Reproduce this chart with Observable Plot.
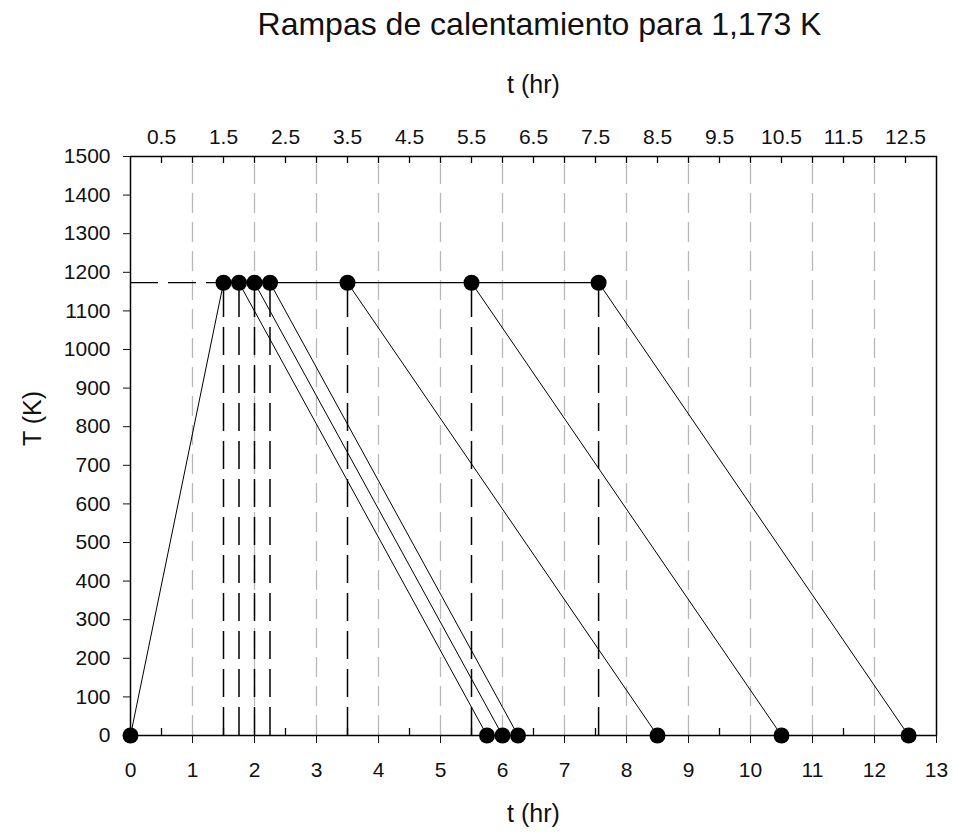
<!DOCTYPE html>
<html>
<head>
<meta charset="utf-8">
<script src="https://cdn.jsdelivr.net/npm/d3@7"></script>
<script src="https://cdn.jsdelivr.net/npm/@observablehq/plot@0.6"></script>
<style>
  body { margin: 0; background: #fff; font-family: "Liberation Sans", Arial, sans-serif; }
  #title { width: 953px; box-sizing: border-box; padding-left: 126px; height: 50px; line-height: 48px; text-align: center; font-size: 32px; color: #111; }
</style>
</head>
<body>
<div id="title">Rampas de calentamiento para 1,173 K</div>
<div id="chart"></div>
<script>
// Data
const targetK = 1173;
const rampTimes = [0, 1.5];          // heating ramp start/end (hr)
const rampTemps = [0, 1173];         // K
const holdEndTimes = [1.5, 1.75, 2.0, 2.25, 3.5, 5.5, 7.55];   // points at 1173 K
const coolStartTimes = [1.75, 2.0, 2.25, 3.5, 5.5, 7.55];      // start of cooling
const coolEndTimes = [5.75, 6.0, 6.25, 8.5, 10.5, 12.55];      // reach 0 K
const xTicksBottom = [0,1,2,3,4,5,6,7,8,9,10,11,12,13];
const xTicksTop = [0.5,1.5,2.5,3.5,4.5,5.5,6.5,7.5,8.5,9.5,10.5,11.5,12.5];
const xTopMinor = [0.5,1,1.5,2,2.5,3,3.5,4,4.5,5,5.5,6,6.5,7,7.5,8,8.5,9,9.5,10,10.5,11,11.5,12,12.5];
const xGrid = [1,2,3,4,5,6,7,8,9,10,11,12];
const yTicks = [0,100,200,300,400,500,600,700,800,900,1000,1100,1200,1300,1400,1500];

const ramp = rampTimes.map((t, i) => ({t, T: rampTemps[i]}));
const cooling = coolStartTimes.map((t, i) => ({t0: t, t1: coolEndTimes[i]}));
const points = [
  {t: rampTimes[0], T: rampTemps[0]},
  ...holdEndTimes.map(t => ({t, T: targetK})),
  ...coolEndTimes.map(t => ({t, T: 0}))
];

const chart = Plot.plot({
  width: 953,
  height: 782,
  marginTop: 106,
  marginBottom: 97,
  marginLeft: 130,
  marginRight: 17,
  style: {fontFamily: "'Liberation Sans', Arial, sans-serif", fontSize: "21px", color: "#111", background: "#fff"},
  x: {domain: [0, 13]},
  y: {domain: [0, 1500]},
  marks: [
    Plot.ruleX(xGrid, {x: d => d, y1: 0, y2: 1500, stroke: "#b8b8b8", strokeWidth: 1.3, strokeDasharray: "20,9"}),
    Plot.ruleX(holdEndTimes, {x: d => d, y1: 0, y2: targetK, stroke: "#000", strokeWidth: 1.5, strokeDasharray: "28,10"}),
    Plot.ruleY([targetK], {x1: 0, x2: holdEndTimes[0], stroke: "#000", strokeWidth: 1.3, strokeDasharray: "28,10"}),
    Plot.ruleY([targetK], {x1: holdEndTimes[0], x2: holdEndTimes[holdEndTimes.length - 1], stroke: "#000", strokeWidth: 1.3}),
    Plot.line(ramp, {x: "t", y: "T", stroke: "#000", strokeWidth: 1}),
    Plot.link(cooling, {x1: "t0", y1: () => targetK, x2: "t1", y2: () => 0, stroke: "#000", strokeWidth: 1}),
    Plot.ruleX(xTicksTop, {x: d => d, y1: 0, y2: 0, insetTop: -7, stroke: "#000", strokeWidth: 1.3}),
    Plot.ruleX(xTopMinor, {x: d => d, y1: 1500, y2: 1500, insetBottom: -7, stroke: "#000", strokeWidth: 1.3}),
    Plot.frame({stroke: "#000", strokeWidth: 1.5}),
    Plot.axisY({ticks: yTicks, tickSize: 7, tickPadding: 13, fontSize: 21, label: null, tickFormat: d => String(d)}),
    Plot.axisX({anchor: "bottom", ticks: xTicksBottom, tickSize: 8, tickPadding: 19, fontSize: 21, label: null, tickFormat: d => String(d)}),
    Plot.axisX({anchor: "top", ticks: xTicksTop, tickSize: 0, tickPadding: 13, fontSize: 21, label: null, tickFormat: d => String(d)}),
    Plot.dot(points, {x: "t", y: "T", r: 8, fill: "#000", stroke: "none"}),
    Plot.text(["t (hr)"], {frameAnchor: "bottom", dy: 78, fontSize: 25, lineAnchor: "middle", fill: "#111"}),
    Plot.text(["t (hr)"], {frameAnchor: "top", dy: -72, fontSize: 25, lineAnchor: "middle", fill: "#111"}),
    Plot.text(["T (K)"], {frameAnchor: "left", dx: -98, rotate: -90, fontSize: 25, lineAnchor: "middle", fill: "#111"})
  ]
});
document.getElementById("chart").appendChild(chart);
</script>
</body>
</html>
